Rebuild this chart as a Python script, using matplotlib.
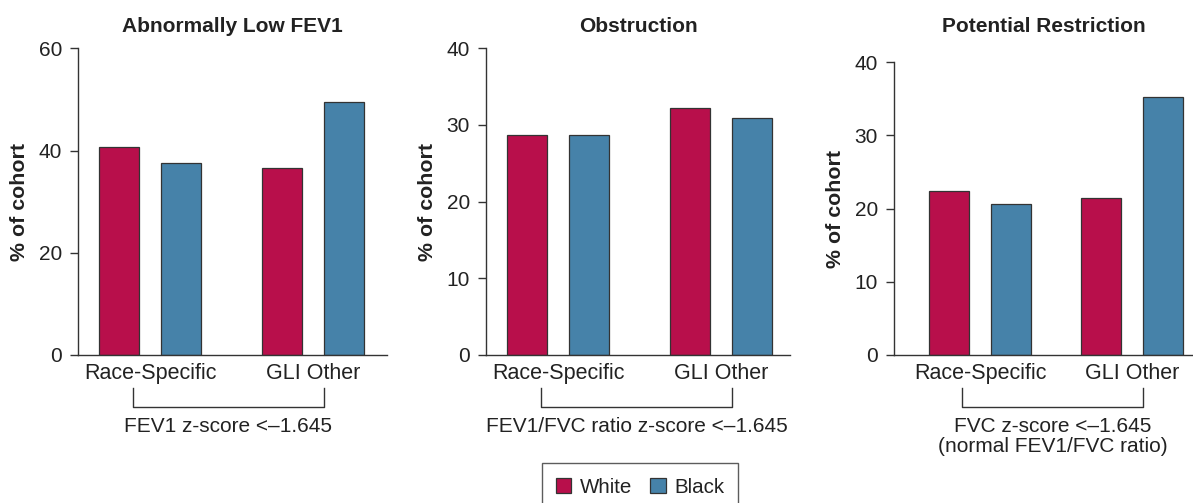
import matplotlib
matplotlib.use("Agg")
import matplotlib.pyplot as plt
from matplotlib.patches import Patch
from matplotlib.transforms import blended_transform_factory

plt.rcParams['font.family'] = ['Liberation Sans', 'DejaVu Sans']

# ---- data ----
categories = ["Race-Specific", "GLI Other"]
series_names = ["White", "Black"]
panel_titles = ["Abnormally Low FEV1", "Obstruction", "Potential Restriction"]
bracket_labels = ["FEV1 z-score <\u20131.645",
                  "FEV1/FVC ratio z-score <\u20131.645",
                  "FVC z-score <\u20131.645\n(normal FEV1/FVC ratio)"]
y_max = [60, 40, 40]
y_ticks = [[0, 20, 40, 60], [0, 10, 20, 30, 40], [0, 10, 20, 30, 40]]

white_low_fev1 = [40.7, 36.6]
black_low_fev1 = [37.5, 49.5]
white_obstruction = [28.65, 32.25]
black_obstruction = [28.65, 30.95]
white_restriction = [22.4, 21.45]
black_restriction = [20.6, 35.2]

white_vals = [white_low_fev1, white_obstruction, white_restriction]
black_vals = [black_low_fev1, black_obstruction, black_restriction]

# ---- style / layout ----
WHITE_C = "#B80F4B"
BLACK_C = "#4682A9"
EDGE = "#333333"
TXT = "#222222"

W, H = 1193, 503
fig = plt.figure(figsize=(W / 100, H / 100), dpi=100)

# axes boxes in pixels: left, right, top(y of max), bottom(y of 0)
boxes = [(78, 386.7, 48.3, 355), (486, 790, 48.3, 355), (894, 1192.7, 62.3, 355)]
group_pos = [[0, 1.632], [0, 1.632], [0, 1.522]]
xlims = [(-0.721, 2.366), (-0.72, 2.32), (-0.86, 2.127)]
bracket_x = [(-0.174, 1.742), (-0.173, 1.743), (-0.177, 1.633)]
offset = 0.308
bw = 0.40

for i in range(3):
    l, r, t, b = boxes[i]
    ax = fig.add_axes([l / W, 1 - b / H, (r - l) / W, (b - t) / H])
    gp = group_pos[i]
    ax.bar([g - offset for g in gp], white_vals[i], width=bw, color=WHITE_C,
           edgecolor=EDGE, linewidth=0.9, label=series_names[0])
    ax.bar([g + offset for g in gp], black_vals[i], width=bw, color=BLACK_C,
           edgecolor=EDGE, linewidth=0.9, label=series_names[1])
    ax.set_xlim(*xlims[i])
    ax.set_ylim(0, y_max[i])
    ax.set_yticks(y_ticks[i])
    ax.set_xticks(gp)
    ax.set_xticklabels(categories)
    for s in ("top", "right"):
        ax.spines[s].set_visible(False)
    for s in ("left", "bottom"):
        ax.spines[s].set_color(EDGE)
        ax.spines[s].set_linewidth(1.0)
    ax.tick_params(axis='y', length=5.5, width=1.0, color=EDGE, pad=6,
                   labelsize=15, labelcolor=TXT)
    ax.tick_params(axis='x', length=0, pad=6, labelsize=15.5, labelcolor=TXT)
    ax.set_ylabel("% of cohort", fontsize=15.4, fontweight='bold', color=TXT, labelpad=7)
    # title
    fig.text((l + r) / 2 / W, 1 - 27 / H, panel_titles[i], ha='center', va='center',
             fontsize=15, fontweight='bold', color=TXT)
    # bracket
    tr = blended_transform_factory(ax.transData, fig.transFigure)
    x0, x1 = bracket_x[i]
    yt, yb = 1 - 388 / H, 1 - 407 / H
    ax.plot([x0, x0, x1, x1], [yt, yb, yb, yt], color=EDGE, lw=1.0,
            transform=tr, clip_on=False)
    ax.text((x0 + x1) / 2, 1 - 417 / H, bracket_labels[i], transform=tr,
            ha='center', va='top', fontsize=15, color=TXT, linespacing=1.05)

handles = [Patch(facecolor=WHITE_C, edgecolor=EDGE, linewidth=0.9, label=series_names[0]),
           Patch(facecolor=BLACK_C, edgecolor=EDGE, linewidth=0.9, label=series_names[1])]
leg = fig.legend(handles=handles, loc='upper center', ncol=2,
                 bbox_to_anchor=(640 / W, 1 - 463.3 / H), frameon=True, fancybox=False,
                 fontsize=14.8, handlelength=0.75, handleheight=0.75, handletextpad=0.4,
                 columnspacing=0.9, borderpad=0.7, borderaxespad=0)
leg.get_frame().set_edgecolor(EDGE)
leg.get_frame().set_linewidth(1.0)
for t in leg.get_texts():
    t.set_color(TXT)

fig.savefig("out.png", dpi=100)
